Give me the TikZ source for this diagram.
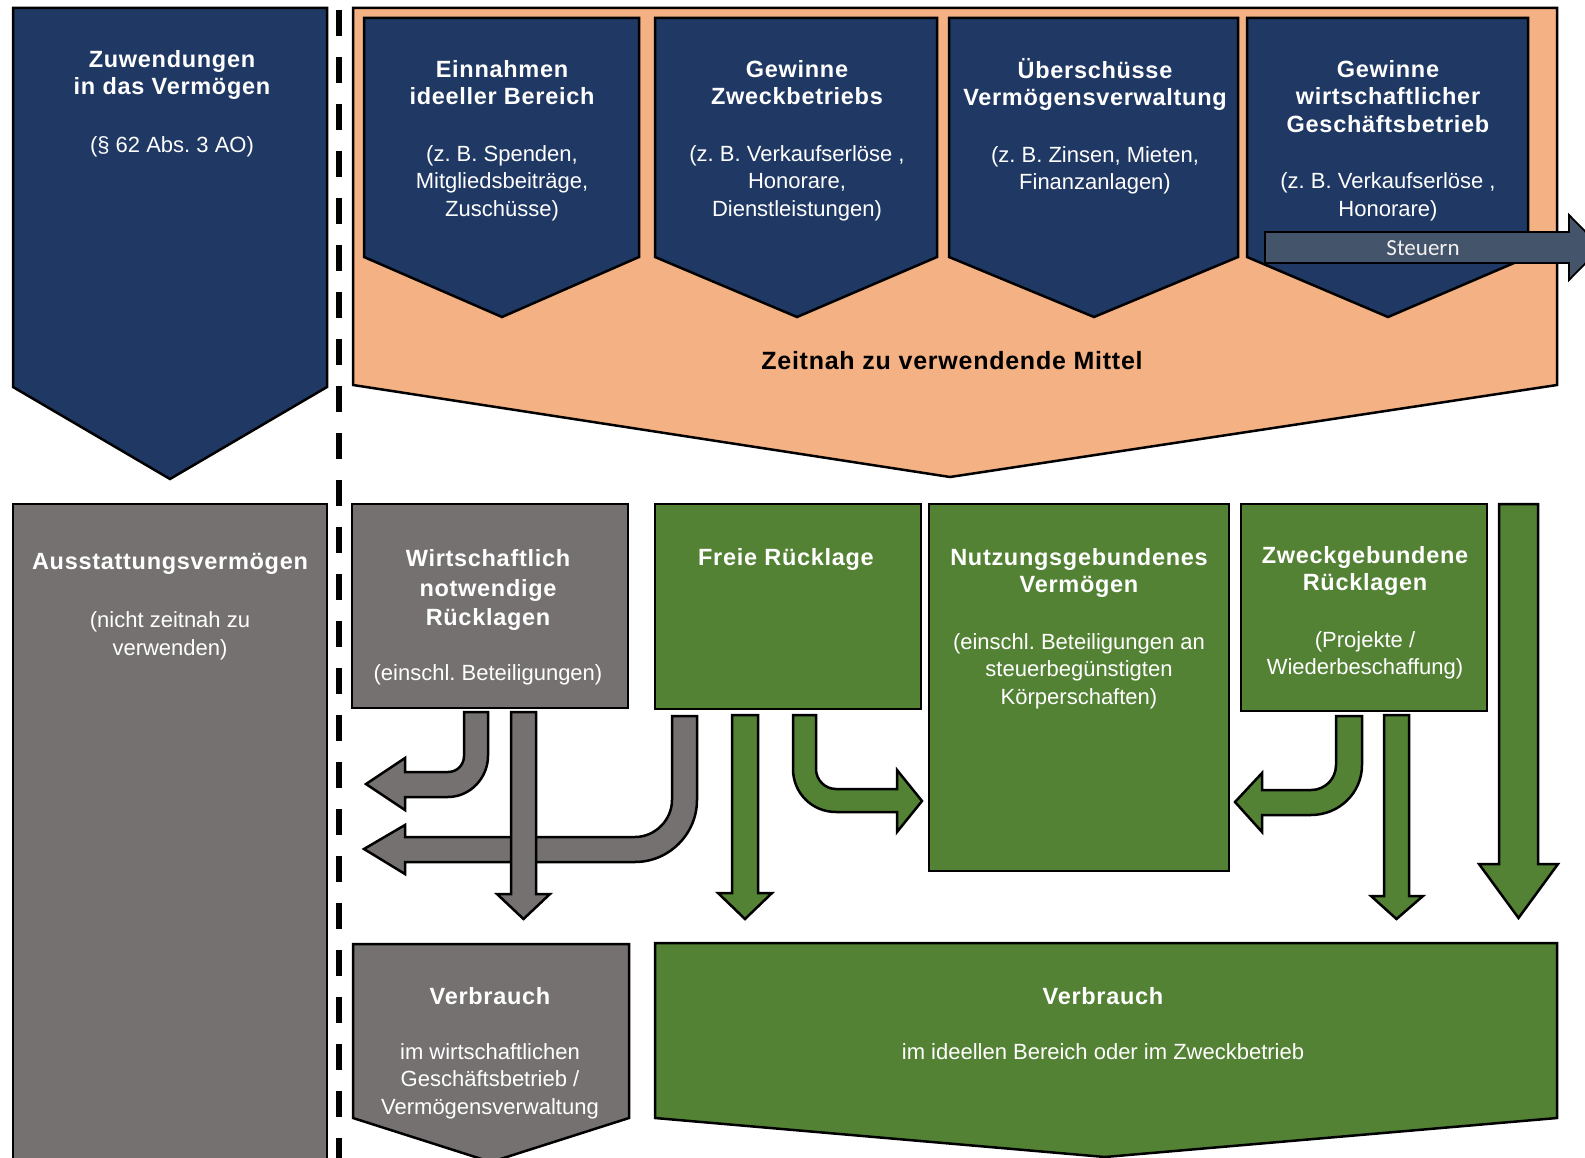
\documentclass[tikz,border=0pt]{standalone}
\usepackage{fontspec}
\setmainfont{Liberation Sans}
\newfontfamily\hdfont{Liberation Sans}[LetterSpace=3]
\newfontfamily\capfont{Liberation Sans}[LetterSpace=3]
\newfontfamily\tagfont{Carlito}
\frenchspacing

\definecolor{navy}{RGB}{32,56,100}
\definecolor{peach}{RGB}{244,177,131}
\definecolor{stone}{RGB}{118,113,113}
\definecolor{leaf}{RGB}{84,130,53}
\definecolor{slate}{RGB}{68,84,106}
\definecolor{paper}{RGB}{242,242,242}

% bold, slightly tracked heading line
\newcommand\hd[1]{{\hdfont\bfseries\fontsize{23.5}{27.5}\selectfont #1}}
\newcommand\bodysize{\fontsize{22}{27.5}\selectfont}

\tikzset{
  blk/.style={draw=black, line width=2.5pt, line join=miter},
  navyblk/.style={blk, fill=navy},
  peachblk/.style={blk, fill=peach},
  stoneblk/.style={blk, fill=stone},
  leafblk/.style={blk, fill=leaf},
  lbl/.style={anchor=north, inner sep=0pt, align=center, text=white, font=\bodysize},
}

\begin{document}
\begin{tikzpicture}[x=1pt, y=-1pt]
\useasboundingbox (0,0) rectangle (1585,1158);
\fill[white] (0,0) rectangle (1585,1158);

% ---- top row -------------------------------------------------------
\draw[navyblk] (13,8) -- (327,8) -- (327,387) -- (170,479) -- (13,387) -- cycle;
\node[lbl] (zuw) at (172,48) {\strut\hd{Zuwendungen}\\\hd{in das Vermögen}\\[30pt](§ 62 Abs. 3 AO)};

\draw[peachblk] (353,8) -- (1557,8) -- (1557,385) -- (950,477) -- (353,385) -- cycle;

\draw[navyblk] (364,18) -- (639,18) -- (639,257) -- (502,317) -- (364,257) -- cycle;
\draw[navyblk] (655,18) -- (937,18) -- (937,257) -- (797,317) -- (655,257) -- cycle;
\draw[navyblk] (949,18) -- (1238,18) -- (1238,257) -- (1094,317) -- (949,257) -- cycle;
\draw[navyblk] (1247,18) -- (1528,18) -- (1528,257) -- (1388,317) -- (1247,257) -- cycle;

\node[lbl] (ein) at (502,58) {\strut\hd{Einnahmen}\\\hd{ideeller Bereich}\\[29pt](z. B. Spenden,\\Mitgliedsbeiträge,\\Zuschüsse)};
\node[lbl] (gzb) at (797,58) {\strut\hd{Gewinne}\\\hd{Zweckbetriebs}\\[29pt](z. B. Verkaufserlöse ,\\Honorare,\\Dienstleistungen)};
\node[lbl] (ueb) at (1095,58) {\strut\hd{Überschüsse}\\\hd{Vermögensverwaltung}\\[29pt](z. B. Zinsen, Mieten,\\Finanzanlagen)};
\node[lbl] (gwg) at (1388,58) {\strut\hd{Gewinne}\\\hd{wirtschaftlicher}\\\hd{Geschäftsbetrieb}\\[29pt](z. B. Verkaufserlöse ,\\Honorare)};

\node[text=black, font={\capfont\bfseries\fontsize{25}{30}\selectfont}] (zeit) at (952,361) {Zeitnah zu verwendende Mittel};

% tax outflow arrow
\draw[draw=black, line width=1.8pt, fill=slate, line join=miter]
  (1265,232) -- (1569,232) -- (1569,215) -- (1601,247.5) -- (1569,280) -- (1569,263) -- (1265,263) -- cycle;
\node[text=paper, font={\tagfont\fontsize{23}{27}\selectfont}] (steu) at (1423,248) {Steuern};

% separator
\draw[line width=6.5pt, dash pattern=on 26pt off 21pt] (339,10) -- (339,1170);

% ---- lower blocks ------------------------------------------------------
\draw[stoneblk] (13,504) rectangle (327,1180);
\node[lbl] (aus) at (170,550) {\strut\hd{Ausstattungsvermögen}\\[31pt](nicht zeitnah zu\\verwenden)};

\draw[stoneblk] (352,504) rectangle (628,708);
\node[lbl, font={\fontsize{22}{29.5}\selectfont}] (wnr) at (488,546) {\strut\hd{Wirtschaftlich}\\\hd{notwendige}\\\hd{Rücklagen}\\[25pt](einschl. Beteiligungen)};

\draw[leafblk] (655,504) rectangle (921,709);
\node[lbl] (frei) at (786,546) {\strut\hd{Freie Rücklage}};

\draw[leafblk] (929,504) rectangle (1229,871);
\node[lbl] (nutz) at (1079,546) {\strut\hd{Nutzungsgebundenes}\\\hd{Vermögen}\\[29pt](einschl. Beteiligungen an\\steuerbegünstigten\\Körperschaften)};

\draw[leafblk] (1241,504) rectangle (1487,711);
\node[lbl] (zweck) at (1365,544) {\strut\hd{Zweckgebundene}\\\hd{Rücklagen}\\[29pt](Projekte /\\Wiederbeschaffung)};

% ---- block arrows ----------------------------------------------------------
% bent arrows towards the endowment column
\draw[stoneblk] (672,716) -- (697,716) -- (697,800)
  .. controls (697,834) and (669,862) .. (635,862)
  -- (405,862) -- (405,874) -- (364,849) -- (405,825) -- (405,837) -- (635,837)
  .. controls (655,837) and (672,820) .. (672,800) -- cycle;
\draw[stoneblk] (464,712) -- (488,712) -- (488,756)
  .. controls (488,778) and (470,797) .. (448,797)
  -- (405,797) -- (405,810) -- (366,784) -- (405,758) -- (405,772) -- (448,772)
  .. controls (457,772) and (464,765) .. (464,756) -- cycle;
% straight down from the business reserves
\draw[stoneblk] (511,712) -- (536,712) -- (536,894) -- (550,894) -- (523.5,919) -- (497,894) -- (511,894) -- cycle;

% free reserve: down and into the asset block
\draw[leafblk] (732,715) -- (758,715) -- (758,893) -- (772,893) -- (745,919) -- (718,893) -- (732,893) -- cycle;
\draw[leafblk] (793,715) -- (816,715) -- (816,769)
  .. controls (816,780) and (825,789) .. (836,789)
  -- (897,789) -- (897,770) -- (922,801) -- (897,832) -- (897,812) -- (836,812)
  .. controls (812,812) and (793,793) .. (793,769) -- cycle;

% earmarked reserves: into the asset block and down
\draw[leafblk] (1336,716) -- (1362,716) -- (1362,765)
  .. controls (1362,793) and (1339,815) .. (1311,815)
  -- (1262,815) -- (1262,832) -- (1235,802) -- (1262,773) -- (1262,790) -- (1311,790)
  .. controls (1325,790) and (1336,779) .. (1336,765) -- cycle;
\draw[leafblk] (1384,715) -- (1409,715) -- (1409,896) -- (1423,896) -- (1396.5,919) -- (1371,896) -- (1384,896) -- cycle;

% direct use
\draw[leafblk] (1499,504) -- (1538,504) -- (1538,864) -- (1558,864) -- (1518.5,918) -- (1479,864) -- (1499,864) -- cycle;

% ---- consumption -------------------------------------------------------
\draw[stoneblk] (353,944) -- (629,944) -- (629,1118) -- (491,1162) -- (353,1118) -- cycle;
\node[lbl] (vgray) at (490,985) {\strut\hd{Verbrauch}\\[27.5pt]im wirtschaftlichen\\Geschäftsbetrieb /\\Vermögensverwaltung};

\draw[leafblk] (655,943) -- (1557,943) -- (1557,1118) -- (1105,1157) -- (655,1118) -- cycle;
\node[lbl] (vgreen) at (1103,985) {\strut\hd{Verbrauch}\\[27.5pt]im ideellen Bereich oder im Zweckbetrieb};

\end{tikzpicture}
\end{document}
